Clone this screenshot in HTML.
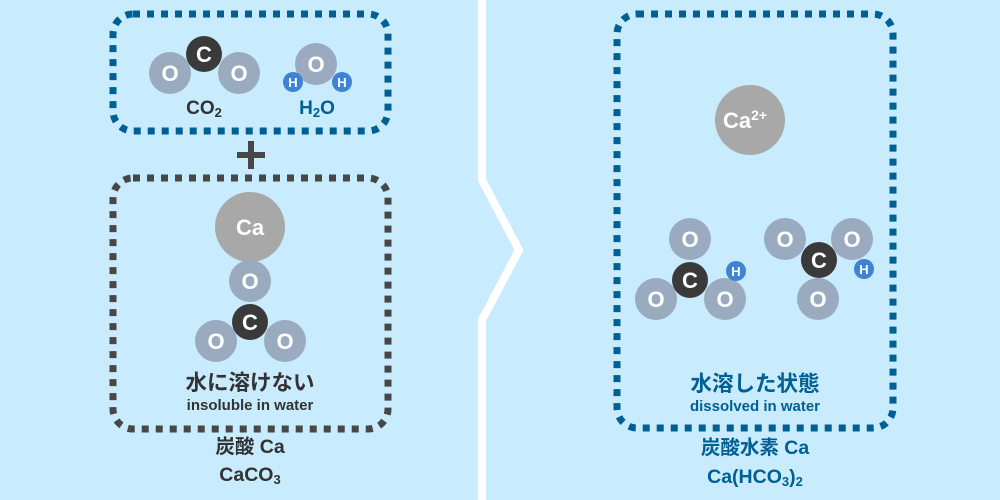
<!DOCTYPE html>
<html><head><meta charset="utf-8"><style>
html,body{margin:0;padding:0;background:#c8ebfd;}
svg{display:block}
text{font-family:"Liberation Sans","Noto Sans CJK JP",sans-serif;font-weight:bold;text-anchor:middle;}
.w{fill:#fff;font-size:22px}
</style></head><body>
<svg width="1000" height="500" viewBox="0 0 1000 500">
<rect width="1000" height="500" fill="#c8ebfd"/>
<polyline points="482,0 482,180 519,250 482,320 482,500" fill="none" stroke="#fff" stroke-width="8"/>
<!-- boxes -->
<rect x="113" y="14" width="275" height="117" rx="20" fill="none" stroke="#005f93" stroke-width="7" stroke-dasharray="7 7"/>
<rect x="113" y="178" width="275" height="251" rx="20" fill="none" stroke="#474747" stroke-width="7" stroke-dasharray="7 7"/>
<rect x="617" y="14" width="276" height="414" rx="20" fill="none" stroke="#005f93" stroke-width="7" stroke-dasharray="7 7"/>
<!-- plus -->
<rect x="237" y="152" width="28" height="6" fill="#474747"/>
<rect x="248" y="141" width="6" height="28" fill="#474747"/>
<!-- CO2 -->
<circle cx="170" cy="73" r="21" fill="#9aabbf"/><text x="170" y="81" class="w">O</text>
<circle cx="239" cy="73" r="21" fill="#9aabbf"/><text x="239" y="81" class="w">O</text>
<circle cx="204" cy="54" r="18" fill="#3a3a3a"/><text x="204" y="62" class="w">C</text>
<text x="204" y="114" font-size="19" fill="#333">CO<tspan font-size="13" dy="3">2</tspan></text>
<!-- H2O -->
<circle cx="316" cy="64" r="21" fill="#9aabbf"/><text x="316" y="72" class="w">O</text>
<circle cx="293" cy="82" r="10" fill="#3f83d4"/><text x="293" y="87" fill="#fff" font-size="13">H</text>
<circle cx="342" cy="82" r="10" fill="#3f83d4"/><text x="342" y="87" fill="#fff" font-size="13">H</text>
<text x="317" y="114" font-size="19" fill="#005f93">H<tspan font-size="13" dy="3">2</tspan><tspan dy="-3">O</tspan></text>
<!-- CaCO3 -->
<circle cx="250" cy="227" r="35" fill="#a8a8a8"/><text x="250" y="235" class="w">Ca</text>
<circle cx="250" cy="281" r="21" fill="#9aabbf"/><text x="250" y="289" class="w">O</text>
<circle cx="216" cy="341" r="21" fill="#9aabbf"/><text x="216" y="349" class="w">O</text>
<circle cx="285" cy="341" r="21" fill="#9aabbf"/><text x="285" y="349" class="w">O</text>
<circle cx="250" cy="322" r="18" fill="#3a3a3a"/><text x="250" y="330" class="w">C</text>
<text x="250" y="390" font-size="21.5" fill="#333">水に溶けない</text>
<text x="250" y="410" font-size="15" fill="#333">insoluble in water</text>
<text x="250" y="453" font-size="19.5" fill="#333">炭酸 Ca</text>
<text x="250" y="481" font-size="19.5" fill="#333">CaCO<tspan font-size="13" dy="3">3</tspan></text>
<!-- right -->
<circle cx="750" cy="120" r="35" fill="#a8a8a8"/><text x="745" y="128" class="w">Ca<tspan font-size="14" dy="-8">2+</tspan></text>
<circle cx="690" cy="239" r="21" fill="#9aabbf"/><text x="690" y="247" class="w">O</text>
<circle cx="656" cy="299" r="21" fill="#9aabbf"/><text x="656" y="307" class="w">O</text>
<circle cx="725" cy="299" r="21" fill="#9aabbf"/><text x="725" y="307" class="w">O</text>
<circle cx="690" cy="280" r="18" fill="#3a3a3a"/><text x="690" y="288" class="w">C</text>
<circle cx="736" cy="271" r="10" fill="#3f83d4"/><text x="736" y="276" fill="#fff" font-size="13">H</text>
<circle cx="785" cy="239" r="21" fill="#9aabbf"/><text x="785" y="247" class="w">O</text>
<circle cx="852" cy="239" r="21" fill="#9aabbf"/><text x="852" y="247" class="w">O</text>
<circle cx="818" cy="299" r="21" fill="#9aabbf"/><text x="818" y="307" class="w">O</text>
<circle cx="819" cy="260" r="18" fill="#3a3a3a"/><text x="819" y="268" class="w">C</text>
<circle cx="864" cy="269" r="10" fill="#3f83d4"/><text x="864" y="274" fill="#fff" font-size="13">H</text>
<text x="755" y="391" font-size="21.5" fill="#005f93">水溶した状態</text>
<text x="755" y="411" font-size="15" fill="#005f93">dissolved in water</text>
<text x="755" y="454" font-size="19.5" fill="#005f93">炭酸水素 Ca</text>
<text x="755" y="483" font-size="19.5" fill="#005f93">Ca(HCO<tspan font-size="13" dy="3">3</tspan><tspan dy="-3">)</tspan><tspan font-size="13" dy="3">2</tspan></text>
</svg>
</body></html>
